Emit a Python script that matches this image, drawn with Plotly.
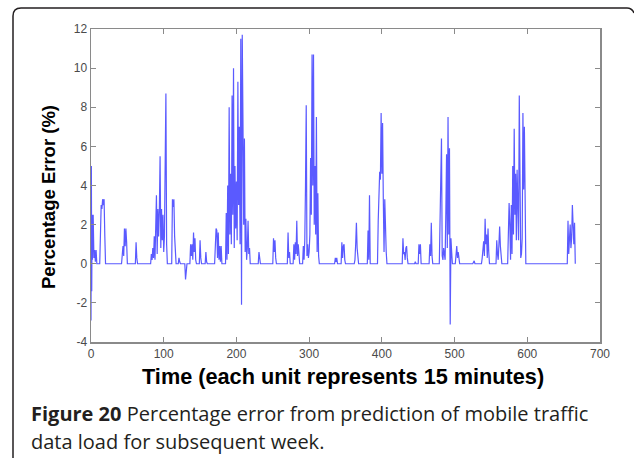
import plotly.graph_objects as go

# Line vertices (time index, percentage error)
time_idx = [
    0, 0.5, 1, 1.5, 2, 3, 4, 5, 6, 7, 8,
    12, 13, 14, 15, 16, 17, 18, 19, 20,
    42, 43, 44, 45, 46, 47, 48, 49, 50,
    61, 62, 63, 64,
    82, 83, 84, 85, 86, 87, 88, 89, 90, 91, 92, 93, 94, 95, 96, 97, 98, 99, 100, 101, 102, 103, 104, 105,
    111, 112, 113, 114, 115, 116, 117,
    120, 121, 122, 123,
    129, 130, 131, 132,
    136, 137, 138, 139, 140, 141, 142, 143, 144, 145,
    149, 150, 151, 152,
    157, 158, 159, 160,
    170, 171, 172, 173, 174, 175, 176, 177, 178, 179, 180,
    185, 186, 187, 188, 189, 190, 191, 192, 193, 194, 195, 196, 197, 198, 199, 200,
    201, 202, 203, 204, 205, 206, 207, 208, 209, 210, 211, 212, 213, 214, 215, 216, 217, 218, 219,
    230, 231, 232, 233,
    250, 251, 252, 253, 254, 255,
    270, 271, 272, 273, 274,
    278, 279, 280, 281, 282, 283, 284, 285, 286, 287,
    291, 292, 293, 294, 295, 296, 297, 298, 299, 300, 301, 302, 303, 304, 305, 306, 307, 308, 309, 310, 311, 312, 313, 314,
    335, 336, 337, 338, 339,
    344, 345, 346, 347, 348, 349, 350,
    362, 363, 364, 365, 366, 367, 368,
    380, 381, 382, 383, 384,
    394, 395, 396, 397, 398, 399, 400, 401, 402, 403, 404, 405, 406, 407,
    428, 429, 430, 431, 432, 433, 434, 435, 436,
    445, 446, 447,
    450, 451, 452, 453, 454,
    465, 466, 467, 468, 469, 470,
    479, 480, 481, 482, 483, 484, 485, 486, 487, 488, 489, 490, 491, 492, 493, 494, 495, 496, 497,
    501, 502, 503, 504, 505, 506, 507,
    525, 526, 527, 528,
    537, 538, 539, 540, 541, 542, 543, 544, 545, 546, 547, 548,
    557, 558, 559, 560, 561, 562, 563, 564, 565,
    573, 574, 575, 576, 577, 578, 579, 580, 581, 582, 583, 584, 585, 586, 587, 588, 589, 590, 591, 592, 593, 594, 595, 596, 597, 598,
    655, 656, 657, 658, 659, 660, 661, 662, 663, 664, 665, 666,
]
pct_error = [
    -2.9, 5.0, -1.4, 2.5, 0.2, 2.5, 0.3, 0.7, 0.1, 0.7, 0,
    0, 1.4, 3.0, 2.8, 3.3, 3.0, 3.3, 1.4, 0,
    0, 0.4, 0.9, 0.4, 1.8, 0.9, 1.8, 1.1, 0,
    0, 1.1, 0.3, 0,
    0, 0.5, 0.2, 0.8, 0.3, 1.4, 0.2, 3.0, 3.5, 0.5, 2.8, 1.4, 2.7, 5.5, 0.8, 2.8, 1.2, 2.5, 0.6, 1.4, 7.5, 8.7, 1.0, 0,
    0, 3.3, 2.9, 3.3, 1.4, 0.1, 0,
    0, 0.3, 0.1, 0,
    0, -0.8, -0.4, 0,
    0, 1.0, 0.4, 1.0, 0.2, 1.6, 0.6, 1.3, 0.2, 0,
    0, 1.2, 0.3, 0,
    0, 0.6, 0.1, 0,
    0, 0.8, 1.8, 1.7, 0.3, 1.6, 0.2, 0.9, 0.1, 0.9, 0,
    0, 2.6, 0.2, 4.0, 0.5, 8.0, 1.5, 4.6, 1.0, 8.6, 2.5, 10.0, 0.8, 5.0, 1.8, 4.2,
    1.2, 9.3, 3.0, 7.0, 1.0, 11.5, -2.1, 11.7, 7.2, 2.0, 6.4, 0.6, 2.3, 0.2, 0.8, 2.2, 0.5, 0.8, 0,
    0, 0.6, 0.3, 0,
    0, 1.3, 0.6, 1.2, 0.3, 0,
    0, 1.6, 0.3, 0.6, 0,
    0, 1.0, 0.2, 1.1, 0.5, 2.2, 0.4, 1.0, 0.3, 0,
    0, 0.9, 0.2, 1.2, 4.0, 8.1, 0.4, 1.0, 0.3, 0.6, 1.5, 5.4, 2.5, 10.7, 4.0, 10.7, 2.0, 5.0, 1.5, 7.5, 0.6, 3.6, 0.4, 0,
    0, 0.3, 0.1, 0.3, 0,
    0, 1.1, 0.3, 0.9, 1.0, 0.2, 0,
    0, 0.2, 1.0, 2.1, 0.8, 0.3, 0,
    0, 1.7, 0.2, 3.5, 0,
    0, 2.2, 4.5, 4.7, 4.3, 7.7, 4.6, 7.2, 3.3, 0.6, 3.3, 1.6, 0.6, 0,
    0, 1.3, 0.5, 0.6, 0.2, 0.8, 0.9, 0.3, 0,
    0, 0.1, 0,
    0, 1.0, 0.5, 1.0, 0,
    0, 1.0, 0.4, 2.1, 0.4, 0,
    0, 2.0, 3.2, 6.4, 0.4, 0.2, 0.8, 0.2, 0.2, 2.7, 5.6, 0.8, 7.5, 1.5, 5.9, -3.1, 1.3, 0.6, 0,
    0, 0.4, 0.9, 0.3, 0.6, 0.3, 0,
    0, 0.15, 0.15, 0,
    0, 0.3, 0.9, 1.15, 0.4, 2.3, 1.0, 1.5, 0.3, 1.8, 0.6, 0,
    0, 1.2, 0.5, 0.2, 1.0, 1.9, 0.9, 0.2, 0,
    0, 1.5, 3.1, 2.0, 0.2, 3.0, 0.5, 5.0, 1.5, 6.9, 2.5, 4.6, 1.2, 4.8, 3.0, 1.2, 8.6, 4.7, 0.3, 0.5, 1.3, 7.7, 3.8, 7.0, 3.8, 0,
    0, 2.2, 0.5, 1.0, 2.0, 0.8, 1.3, 3.0, 2.1, 1.0, 2.1, 0,
]

x_ticks = [0, 100, 200, 300, 400, 500, 600, 700]
x_tick_labels = ["0", "100", "200", "300", "400", "500", "600", "700"]
y_ticks = [-4, -2, 0, 2, 4, 6, 8, 10, 12]
y_tick_labels = ["-4", "-2", "0", "2", "4", "6", "8", "10", "12"]

x_title = "Time (each unit represents 15 minutes)"
y_title = "Percentage Error (%)"
caption_1 = "<b>Figure 20</b> Percentage error from prediction of mobile traffic"
caption_2 = "data load for subsequent week."

W, H = 634, 458
L, R, T, B = 91, 34, 29, 116
pw, ph = W - L - R, H - T - B


def px(x):
    return (x - L) / pw


def py(y):
    return (H - B - y) / ph


fig = go.Figure()
fig.add_trace(go.Scatter(
    x=time_idx, y=pct_error, mode="lines",
    line=dict(color="#5a5aff", width=1.2),
    hoverinfo="skip", showlegend=False,
))

axis_common = dict(
    showline=True, linecolor="#8a8a8a", linewidth=1.5, mirror="ticks",
    ticks="inside", ticklen=5, tickcolor="#8a8a8a", tickwidth=1.2,
    showgrid=False, zeroline=False,
    tickfont=dict(family="Liberation Sans, Arial", size=12, color="#4a4a4a"),
)
fig.update_xaxes(range=[0, 700], tickvals=x_ticks, ticktext=x_tick_labels, **axis_common)
fig.update_yaxes(range=[-4, 12], tickvals=y_ticks, ticktext=y_tick_labels, **axis_common)

# rounded frame (left + top edges of figure box)
r = 8
path = (
    f"M {px(13)},{py(458)} L {px(13)},{py(8 + r)} "
    f"Q {px(13)},{py(8)} {px(13 + r)},{py(8)} "
    f"L {px(627)},{py(8)} Q {px(632)},{py(8)} {px(634)},{py(13)}"
)
fig.add_shape(type="path", xref="paper", yref="paper", path=path,
              line=dict(color="#231f20", width=1.5))

fig.add_annotation(x=px(343), y=py(376), xref="paper", yref="paper",
                   text=f"<b>{x_title}</b>", showarrow=False,
                   font=dict(family="Liberation Sans, Arial", size=21.7, color="#000"),
                   xanchor="center", yanchor="middle")
fig.add_annotation(x=px(48), y=py(197), xref="paper", yref="paper",
                   text=f"<b>{y_title}</b>", showarrow=False, textangle=-90,
                   font=dict(family="Liberation Sans, Arial", size=18.5, color="#000"),
                   xanchor="center", yanchor="middle")
fig.add_annotation(x=px(29), y=py(413), xref="paper", yref="paper",
                   text=caption_1, showarrow=False,
                   font=dict(family="Open Sans", size=20, color="#231f20"),
                   xanchor="left", yanchor="middle")
fig.add_annotation(x=px(29), y=py(441), xref="paper", yref="paper",
                   text=caption_2, showarrow=False,
                   font=dict(family="Open Sans", size=20, color="#231f20"),
                   xanchor="left", yanchor="middle")

fig.update_layout(
    width=W, height=H,
    margin=dict(l=L, r=R, t=T, b=B),
    paper_bgcolor="white", plot_bgcolor="white",
    showlegend=False,
)

fig.write_html("out.html", config={"displayModeBar": False, "staticPlot": True},
               post_script="document.body.style.margin='0';document.body.style.padding='0';")
